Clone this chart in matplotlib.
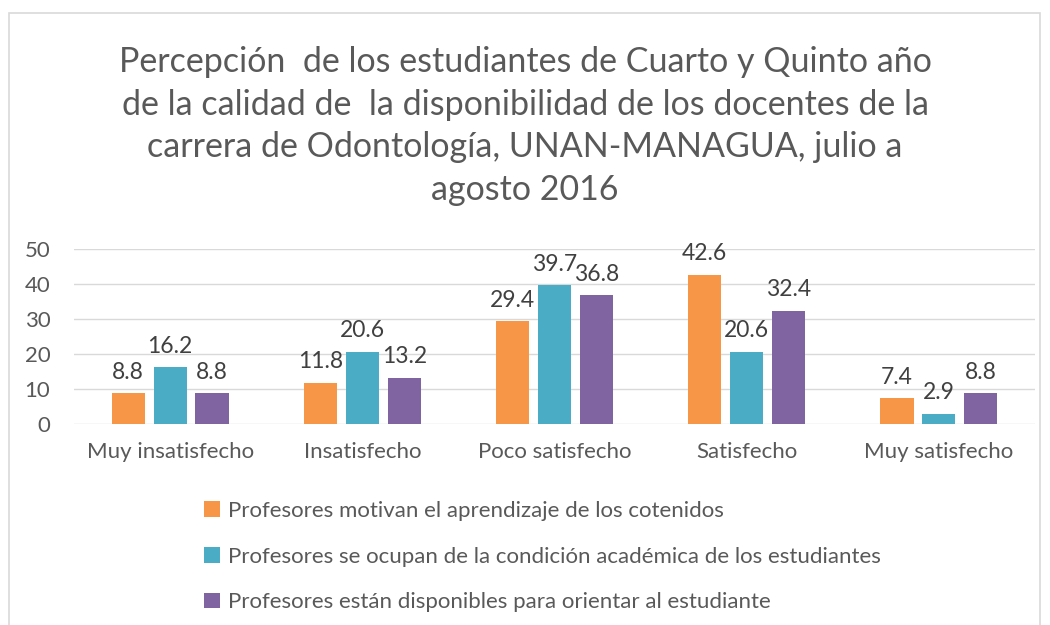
import matplotlib.pyplot as plt
import numpy as np
from matplotlib.patches import Rectangle, Patch

categories = ['Muy insatisfecho', 'Insatisfecho', 'Poco satisfecho', 'Satisfecho', 'Muy satisfecho']
series_names = ['Profesores motivan el aprendizaje de los cotenidos',
                'Profesores se ocupan de la condición académica de los estudiantes',
                'Profesores están disponibles para orientar al estudiante']
motivan = [8.8, 11.8, 29.4, 42.6, 7.4]
ocupan = [16.2, 20.6, 39.7, 20.6, 2.9]
disponibles = [8.8, 13.2, 36.8, 32.4, 8.8]
colors = ['#F79646', '#4BACC6', '#8064A2']

title = ('Percepción  de los estudiantes de Cuarto y Quinto año\n'
         'de la calidad de  la disponibilidad de los docentes de la\n'
         'carrera de Odontología, UNAN-MANAGUA, julio a\n'
         'agosto 2016')

plt.rcParams['font.family'] = ['Lato', 'DejaVu Sans']
text_color = '#595959'

fig = plt.figure(figsize=(10.5, 6.25), dpi=100)
fig.patches.append(Rectangle((9 / 1050, -0.1), (1040 - 9) / 1050, 1.1 - 13 / 625,
                             transform=fig.transFigure, fill=False,
                             edgecolor='#D9D9D9', lw=1.2))

ax = fig.add_axes([74 / 1050, 1 - 424 / 625, (1035 - 74) / 1050, 175 / 625])

x = np.arange(len(categories))
width = 0.172
offset = 0.218
for i, vals in enumerate([motivan, ocupan, disponibles]):
    bars = ax.bar(x + (i - 1) * offset, vals, width, color=colors[i], zorder=3)
    for b, v in zip(bars, vals):
        ax.text(b.get_x() + b.get_width() / 2, v + 3.0, '%.1f' % v,
                ha='center', va='bottom', fontsize=16.5, color='#404040')

ax.set_xlim(-0.5, 4.5)
ax.set_ylim(0, 50)
ax.set_yticks(range(0, 51, 10))
ax.set_xticks(x)
ax.set_xticklabels(categories)
ax.tick_params(axis='both', length=0, labelsize=16, colors=text_color)
ax.tick_params(axis='x', pad=13)
ax.tick_params(axis='y', pad=17)
ax.grid(axis='y', color='#D9D9D9', lw=1, zorder=0)
for s in ax.spines.values():
    s.set_visible(False)

fig.text(0.5, 1 - 126 / 625, title, ha='center', va='center', fontsize=24.5,
         color=text_color, linespacing=1.4)

handles = [Patch(facecolor=c) for c in colors]
fig.legend(handles, series_names, loc='upper left', bbox_to_anchor=(184 / 1050, 1 - 481 / 625),
           frameon=False, fontsize=16, labelcolor=text_color, handlelength=0.7,
           handleheight=0.7, handletextpad=0.4, labelspacing=1.15)

fig.savefig('out.png', dpi=100)
